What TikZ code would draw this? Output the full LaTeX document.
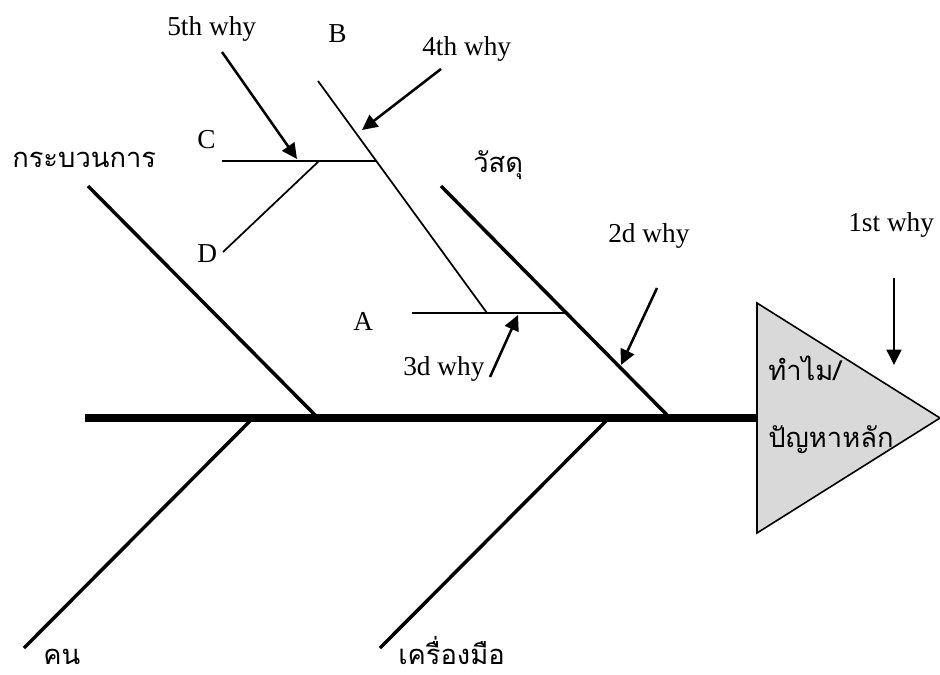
\documentclass[tikz,border=0pt]{standalone}
\usepackage{fontspec}
\setmainfont{Liberation Serif}
\newfontfamily\thaifont[Script=Thai]{Loma}
\usetikzlibrary{arrows.meta}
\begin{document}
\begin{tikzpicture}[x=0.75pt,y=-0.75pt,
  spine/.style={line width=6pt},
  bone/.style={line width=2.6pt},
  subbone/.style={line width=1.3pt},
  whyarrow/.style={line width=1.9pt,-{Triangle[length=11.5pt,width=11pt]}},
  lbl/.style={font=\fontsize{20.5}{24}\selectfont, inner sep=0pt, anchor=base west},
  thailbl/.style={font=\thaifont\fontsize{20.5}{24}\selectfont, inner sep=0pt, anchor=base west},
  headfill/.style={fill={rgb,255:red,217;green,217;blue,217}, draw=black, line width=1.2pt, line join=miter}]
\useasboundingbox (0,0) rectangle (940,675);

% head
\coordinate (htop) at (757,303);
\coordinate (hbot) at (757,533);
\coordinate (htip) at (940,418);
\path[headfill] (htop) -- (htip) -- (hbot) -- cycle;

% spine
\coordinate (tail) at (85,418);
\coordinate (spineend) at (757,418);
\draw[spine] (tail) -- (spineend);

% main bones
\coordinate (procS) at (88,186);   \coordinate (procE) at (318,418);
\coordinate (matS) at (441,186);   \coordinate (matE) at (670,418);
\coordinate (manS) at (24,648);    \coordinate (manE) at (253,418);
\coordinate (machS) at (380,648);  \coordinate (machE) at (609,418);
\draw[bone] (procS) -- (procE);
\draw[bone] (matS) -- (matE);
\draw[bone] (manS) -- (manE);
\draw[bone] (machS) -- (machE);

% sub bones
\coordinate (aS) at (412,313);  \coordinate (aE) at (566,313);
\coordinate (bS) at (318,81);   \coordinate (bE) at (487,313);
\coordinate (cS) at (222,161);  \coordinate (cE) at (376,161);
\coordinate (dS) at (223,252);  \coordinate (dE) at (319,161);
\draw[subbone] (aS) -- (aE);
\draw[subbone] (bS) -- (bE);
\draw[subbone] (cS) -- (cE);
\draw[subbone] (dS) -- (dE);

% why arrows
\coordinate (w1s) at (894,278); \coordinate (w1e) at (894,365);
\coordinate (w2s) at (657,288); \coordinate (w2e) at (621,365);
\coordinate (w3s) at (490,377); \coordinate (w3e) at (518,315);
\coordinate (w4s) at (441,69);  \coordinate (w4e) at (362,130);
\coordinate (w5s) at (222,52);  \coordinate (w5e) at (297,159);
\draw[whyarrow] (w1s) -- (w1e);
\draw[whyarrow] (w2s) -- (w2e);
\draw[whyarrow] (w3s) -- (w3e);
\draw[whyarrow] (w4s) -- (w4e);
\draw[whyarrow] (w5s) -- (w5e);

% latin labels
\node[lbl] (l5) at (167,35) {5th why};
\node[lbl] (l4) at (422,55) {4th why};
\node[lbl] (l3) at (403,375) {3d why};
\node[lbl] (l2) at (608,242) {2d why};
\node[lbl] (l1) at (848,231) {1st why};
\node[lbl] (lb) at (328,42) {B};
\node[lbl] (lc) at (197,148) {C};
\node[lbl] (ld) at (197,262) {D};
\node[lbl] (la) at (353,330) {A};

% thai labels
\node[thailbl] (tproc) at (12,167) {กระบวนการ};
\node[thailbl] (tmat) at (473,172) {วัสดุ};
\node[thailbl, text depth=0pt] (tman) at (43,664) {คน};
\node[thailbl, text depth=0pt] (tmach) at (398,664) {เครื่องมือ};
\node[thailbl] (thead1) at (768,380) {ทำไม/};
\node[thailbl] (thead2) at (768,447) {ปัญหาหลัก};
\end{tikzpicture}
\end{document}
